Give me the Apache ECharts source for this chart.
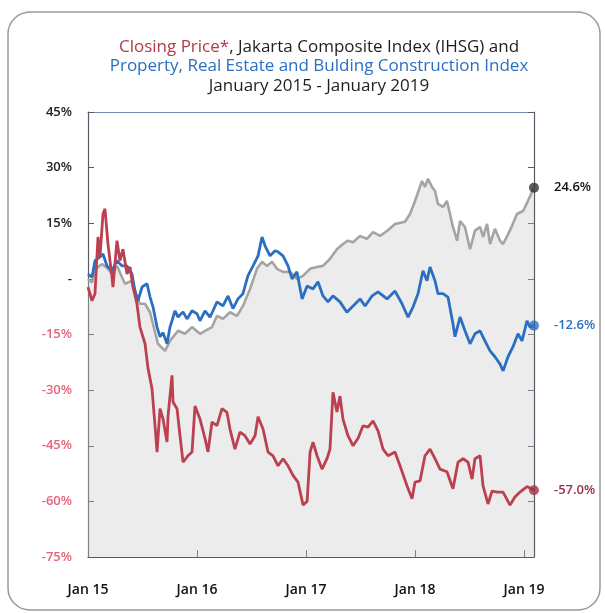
<!DOCTYPE html>
<html>
<head>
<meta charset="utf-8">
<script src="https://cdn.jsdelivr.net/npm/echarts@6/dist/echarts.min.js"></script>
<style>
  html, body { margin: 0; padding: 0; background: #ffffff; }
  #chart { width: 605px; height: 613px; }
</style>
</head>
<body>
<div id="chart"></div>
<script>
// months since Jan 2015, % change
const ihsgData = [
  [0, 0], [0.44, -1], [0.77, 2.5], [1.54, 4], [2.09, 3], [2.64, 1.3], [3.19, 3.5],
  [3.74, 0.5], [4.07, -1.3], [4.84, -0.5], [5.17, -4], [5.72, -6.7], [6.28, -6.7],
  [6.83, -9], [7.7, -17.5], [8.48, -19.4], [9.03, -16.7], [9.91, -14], [10.68, -14.8],
  [11.45, -13], [12.33, -14.8], [12.88, -14], [13.65, -13], [14.2, -10], [14.86, -10.8],
  [15.63, -9], [16.4, -10], [17.06, -7.3], [17.84, -2.7], [18.6, 2.7], [19.16, 4.6],
  [19.7, 3.5], [20.26, 4.6], [20.8, 2.7], [21.47, 1.9], [22.24, 1.9], [23.0, 0],
  [23.67, 0.8], [24.44, 2.7], [25.2, 3.2], [25.87, 3.5], [26.64, 5.4], [27.4, 8],
  [28.07, 9.4], [28.62, 10.3], [29.18, 9.9], [29.95, 11.6], [30.7, 10.8], [31.38, 12.6],
  [32.15, 11.6], [32.92, 12.9], [33.8, 14.8], [34.9, 15.4], [35.45, 17.5], [36.0, 21],
  [36.77, 26.4], [37.1, 24.8], [37.43, 27], [37.87, 24.8], [38.2, 23.7], [38.53, 20.2],
  [39.08, 19.4], [39.52, 21], [39.85, 17.5], [40.18, 14], [40.63, 10.3], [40.96, 15.6],
  [41.5, 14], [42.06, 8], [42.6, 13], [43.16, 14], [43.5, 11.3], [43.93, 14.8],
  [44.26, 9.4], [44.8, 13.5], [45.36, 10.3], [45.7, 9.4], [46.24, 12], [46.68, 14.3],
  [47.23, 17.5], [47.9, 18.3], [48.43, 21], [49.1, 24.6]
];

const propertyData = [
  [0, 1.3], [0.44, 0.5], [0.77, 4.9], [1.32, 5.9], [1.65, 6.7], [2.09, 3.5], [2.64, 2.2],
  [3.19, 4.9], [3.74, 3.5], [4.29, 3.5], [4.84, 1.3], [5.17, -3.2], [5.5, -5.9],
  [5.95, -2.2], [6.5, -1.3], [6.83, -4.9], [7.16, -7.6], [7.6, -13], [7.93, -15.6],
  [8.26, -14.5], [8.7, -17.5], [9.03, -13], [9.58, -8.6], [9.91, -10.3], [10.46, -8.9],
  [10.9, -10.8], [11.45, -8.6], [12.0, -9.4], [12.33, -11.3], [12.88, -8.6], [13.43, -10.3],
  [13.76, -8.6], [14.2, -6.2], [14.86, -7.3], [15.41, -4.6], [15.96, -8], [16.51, -5.4],
  [17.06, -4], [17.6, 0.8], [18.17, 3.5], [18.72, 6.2], [19.16, 11.3], [19.49, 8.9],
  [20.04, 6.2], [20.59, 7.6], [20.92, 7.3], [21.47, 6.2], [22.02, 3.5], [22.46, 0],
  [23.0, 1.9], [23.57, -5.4], [24.12, -1.9], [24.77, -2.7], [25.32, -0.8], [25.87, -4.6],
  [26.42, -6.2], [26.97, -4.6], [27.74, -6.2], [28.5, -9], [29.18, -7.3], [29.95, -5.4],
  [30.5, -7.3], [31.27, -4.6], [31.93, -3.5], [32.92, -5.4], [33.8, -3.3], [34.57, -6.7],
  [35.23, -10.3], [35.78, -7.6], [36.33, -4], [36.88, 2.2], [37.32, -0.5], [37.65, 3.2],
  [38.2, -0.5], [38.53, -4], [39.08, -4], [39.63, -4.9], [40.18, -12.1], [40.4, -15.6],
  [40.96, -10.3], [41.5, -14], [42.06, -17.5], [42.6, -14.8], [43.16, -14], [43.7, -16.7],
  [44.26, -19.4], [44.8, -21], [45.36, -23], [45.7, -24.8], [46.24, -21], [46.79, -18.3],
  [47.34, -14.8], [47.78, -16.7], [48.33, -11.3], [48.66, -13], [49.1, -12.6]
];

const closingData = [
  [0, -2.2], [0.44, -5.9], [0.77, -4], [1.1, 11.3], [1.32, 5.9], [1.65, 17.5], [1.87, 18.9],
  [2.2, 9.4], [2.64, 0.5], [2.75, -2.2], [3.19, 10.3], [3.52, 4.9], [3.85, 8], [4.29, 1.3],
  [4.62, 3.2], [4.95, -2.2], [5.39, -6.7], [5.72, -13], [6.28, -17.5], [6.6, -24],
  [7.05, -29.7], [7.38, -39.6], [7.6, -46.7], [7.93, -35], [8.26, -37.8], [8.7, -44],
  [8.81, -37], [9.25, -26], [9.36, -33.2], [9.8, -35], [10.13, -42.3], [10.46, -49.4],
  [11.0, -47.7], [11.45, -46.7], [11.78, -34.3], [12.33, -37.8], [12.88, -43], [13.21, -46.7],
  [13.65, -38.6], [14.2, -39.6], [14.75, -35], [15.3, -36], [15.63, -40.5], [16.18, -45.9],
  [16.73, -41.3], [17.28, -42.3], [17.84, -44.5], [18.39, -42.3], [18.72, -37.2],
  [19.27, -40.5], [19.82, -46.7], [20.37, -47.7], [20.92, -50.4], [21.47, -48.5],
  [22.02, -50.4], [22.57, -53], [23.12, -54.8], [23.68, -61], [24.12, -60], [24.45, -46.7],
  [24.77, -44], [25.22, -47.7], [25.76, -51.3], [26.31, -48.5], [26.64, -45.9], [26.97, -30.6],
  [27.41, -35.9], [27.74, -31.6], [28.07, -37.8], [28.62, -42.3], [29.18, -45], [29.73, -43],
  [30.28, -39.6], [30.83, -40], [31.38, -38.3], [31.93, -41], [32.48, -45.9], [33.03, -47.7],
  [33.8, -46.7], [34.35, -50.4], [35.12, -55.8], [35.67, -59.3], [36.0, -54.8], [36.55, -54.5],
  [37.1, -47.7], [37.65, -45.9], [38.2, -48.5], [38.75, -51.3], [39.52, -52], [40.18, -56.6],
  [40.74, -49.4], [41.29, -48.5], [41.84, -49.4], [42.28, -54], [42.6, -48.5], [43.16, -47.7],
  [43.49, -55.8], [44.04, -60.7], [44.48, -57.2], [45.03, -57.5], [45.69, -57.5], [46.46, -61],
  [47.0, -58.8], [47.56, -57.5], [48.33, -56], [49.1, -57.0]
];

const yearLabels = ['Jan 15', 'Jan 16', 'Jan 17', 'Jan 18', 'Jan 19'];

const GRAY = '#a4a4a4';
const BLUE = '#2a6fc2';
const RED = '#bb4050';
const FONT = '"Open Sans", "Noto Sans", sans-serif';

const chart = echarts.init(document.getElementById('chart'), null, { renderer: 'canvas' });

function endLabel(color) {
  return {
    show: true,
    distance: 20,
    fontFamily: FONT,
    fontSize: 13,
    fontWeight: 600,
    color: color,
    formatter: p => p.value[1].toFixed(1) + '%'
  };
}

const lastPoints = [
  { value: ihsgData[ihsgData.length - 1], itemStyle: { color: '#333333' } },
  { value: propertyData[propertyData.length - 1], itemStyle: { color: BLUE } },
  { value: closingData[closingData.length - 1], itemStyle: { color: '#a0344a' } }
];

chart.setOption({
  backgroundColor: '#ffffff',
  animation: false,
  graphic: [{
    type: 'rect',
    shape: { x: 8, y: 12, width: 592, height: 598, r: 22 },
    style: { fill: 'none', stroke: '#9a9a9a', lineWidth: 1.5 },
    z: -1
  }],
  title: {
    left: 314,
    top: 32,
    textAlign: 'center',
    text: '{r|Closing Price*}{k|, Jakarta Composite Index (IHSG) and}\n{b|Property, Real Estate and Bulding Construction Index}\n{k|January 2015 - January 2019}',
    textStyle: {
      rich: {
        r: { color: '#b03a4c', fontSize: 17, fontWeight: 'normal', fontFamily: FONT, lineHeight: 19.5 },
        k: { color: '#1e1e1e', fontSize: 17, fontWeight: 'normal', fontFamily: FONT, lineHeight: 19.5 },
        b: { color: '#2a6fc2', fontSize: 17, fontWeight: 'normal', fontFamily: FONT, lineHeight: 19.5 }
      }
    }
  },
  grid: { left: 88, right: 71, top: 112, bottom: 56 },
  xAxis: [{
    type: 'value',
    min: 0,
    max: 49.1,
    interval: 12,
    axisLine: { show: true, onZero: false, lineStyle: { color: '#555a66', width: 1.2 } },
    axisTick: { show: true, inside: true, length: 7, lineStyle: { color: '#555a66' } },
    splitLine: { show: false },
    axisLabel: {
      margin: 26,
      fontFamily: FONT,
      fontSize: 14,
      fontWeight: 600,
      color: '#111111',
      formatter: v => (v % 12 === 0 ? yearLabels[v / 12] : '')
    }
  }, {
    type: 'value',
    position: 'top',
    min: 0,
    max: 49.1,
    axisLine: { show: true, onZero: false, lineStyle: { color: '#7c8ab0', width: 1 } },
    axisTick: { show: false },
    axisLabel: { show: false },
    splitLine: { show: false }
  }],
  yAxis: [{
    type: 'value',
    min: -75,
    max: 45,
    interval: 15,
    axisLine: { show: true, onZero: false, lineStyle: { color: '#555a66', width: 1.2 } },
    axisTick: { show: true, inside: true, length: 6, lineStyle: { color: '#555a66' } },
    splitLine: { show: false },
    axisLabel: {
      margin: 16,
      fontFamily: FONT,
      fontSize: 13,
      fontWeight: 600,
      color: v => (v < 0 ? '#e6637c' : '#222222'),
      formatter: v => (v === 0 ? '-' : v + '%')
    }
  }, {
    type: 'value',
    position: 'right',
    min: -75,
    max: 45,
    interval: 15,
    axisLine: { show: true, onZero: false, lineStyle: { color: '#555a66', width: 1.2 } },
    axisTick: { show: true, inside: true, length: 6, lineStyle: { color: '#555a66' } },
    splitLine: { show: false },
    axisLabel: { show: false }
  }],
  series: [{
    name: 'IHSG',
    type: 'line',
    data: ihsgData,
    showSymbol: false,
    lineStyle: { color: GRAY, width: 2.6 },
    areaStyle: { color: 'rgba(200, 200, 200, 0.5)', origin: 'start' },
    endLabel: endLabel('#111111'),
    z: 2
  }, {
    name: 'Property',
    type: 'line',
    data: propertyData,
    showSymbol: false,
    lineStyle: { color: BLUE, width: 2.8 },
    endLabel: endLabel(BLUE),
    z: 3
  }, {
    name: 'Closing Price',
    type: 'line',
    data: closingData,
    showSymbol: false,
    lineStyle: { color: RED, width: 2.8 },
    endLabel: endLabel('#9a3048'),
    z: 4
  }, {
    type: 'scatter',
    data: lastPoints,
    symbolSize: 10,
    z: 5
  }]
});
</script>
</body>
</html>
